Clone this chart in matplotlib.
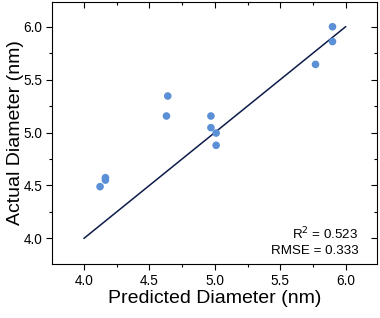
import numpy as np
import matplotlib.pyplot as plt

plt.rcParams['font.family'] = ['Liberation Sans', 'DejaVu Sans']

# predicted vs actual diameter (nm)
predicted = [5.90, 5.90, 5.77, 4.64, 4.63, 4.97, 4.97, 5.01, 5.01, 4.163, 4.163, 4.122]
actual = [6.00, 5.86, 5.644, 5.345, 5.156, 5.156, 5.046, 4.995, 4.879, 4.573, 4.55, 4.488]
ideal = [4.0, 6.0]
r2_text = 'R$^2$ = 0.523'
rmse_text = 'RMSE = 0.333'

fig = plt.figure(figsize=(3.8, 3.18), dpi=100)
ax = fig.add_axes([0.137, 0.170, 0.855, 0.824])

ax.plot(ideal, ideal, color='#0d1b4a', lw=1.1, zorder=2)
ax.scatter(predicted, actual, s=30, color='#5b8fd6', edgecolors='none', zorder=3)

ax.set_xlim(3.755, 6.24)
ax.set_ylim(3.757, 6.235)
ticks = np.arange(4.0, 6.01, 0.5)
minors = np.arange(4.25, 6.1, 0.5)
ax.set_xticks(ticks)
ax.set_yticks(ticks)
ax.set_xticks(minors, minor=True)
ax.set_yticks(minors, minor=True)
ax.xaxis.set_major_formatter(plt.FormatStrFormatter('%.1f'))
ax.yaxis.set_major_formatter(plt.FormatStrFormatter('%.1f'))

# Origin style: outward ticks bottom/left, mirrored inward top/right
ax.tick_params(which='both', direction='out', top=False, right=False,
               labelsize=9.8, width=0.8, pad=3)
ax.tick_params(which='major', length=4)
ax.tick_params(which='minor', length=2.5)

top = ax.secondary_xaxis('top')
right = ax.secondary_yaxis('right')
for sec in (top, right):
    sec.set_ticks(ticks)
    sec.set_ticks(minors, minor=True)
    sec.tick_params(which='both', direction='in', width=0.8,
                    labeltop=False, labelright=False)
    sec.tick_params(which='major', length=4)
    sec.tick_params(which='minor', length=2.5)
    sec.spines[:].set_visible(False)

for s in ax.spines.values():
    s.set_linewidth(0.8)

ax.set_xlabel('Predicted Diameter (nm)', fontsize=14, labelpad=1.5)
ax.set_ylabel('Actual Diameter (nm)', fontsize=14, labelpad=-0.5)

ax.text(0.943, 0.115, r2_text, transform=ax.transAxes, ha='right', va='center', fontsize=9.6)
ax.text(0.943, 0.05, rmse_text, transform=ax.transAxes, ha='right', va='center', fontsize=9.6)

plt.savefig('out.png', dpi=100)
